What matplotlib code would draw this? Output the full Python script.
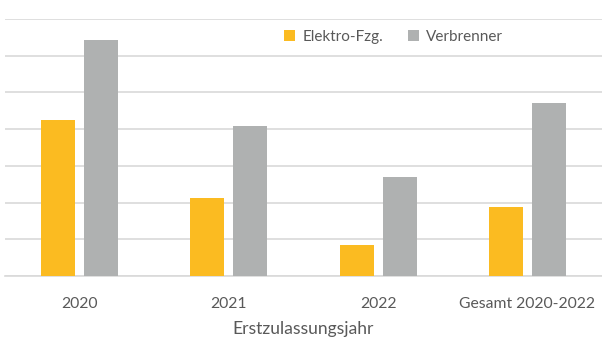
import matplotlib.pyplot as plt
import numpy as np

categories = ["2020", "2021", "2022", "Gesamt 2020-2022"]
elektro = [4.24, 2.13, 0.85, 1.89]
verbrenner = [6.43, 4.09, 2.70, 4.70]
series_names = ["Elektro-Fzg.", "Verbrenner"]

plt.rcParams["font.family"] = ["Lato", "DejaVu Sans"]

fig = plt.figure(figsize=(6.02, 3.51), dpi=100)
ax = fig.add_axes([5 / 602, (351 - 276) / 351, 597 / 602, (276 - 19) / 351])

x = np.arange(len(categories))
w = 0.228
off = 0.144
ax.bar(x - off, elektro, w, color="#fbbb21", label=series_names[0], zorder=3)
ax.bar(x + off, verbrenner, w, color="#afb1b1", label=series_names[1], zorder=3)

ax.set_xlim(-0.5, 3.5)
ax.set_ylim(0, 7)
ax.set_yticks(np.arange(0, 8))
ax.yaxis.grid(True, color="#d9d9d9", linewidth=1.2, zorder=0)
ax.tick_params(axis="y", left=False, labelleft=False)
ax.tick_params(axis="x", length=0, pad=15, labelsize=11.3, labelcolor="#595959")
ax.set_xticks(x)
ax.set_xticklabels(categories)
for s in ["top", "right", "left"]:
    ax.spines[s].set_visible(False)
ax.spines["bottom"].set_color("#d9d9d9")
ax.spines["bottom"].set_linewidth(1.2)

ax.set_xlabel("Erstzulassungsjahr", fontsize=12.6, color="#595959", labelpad=7)

ax.legend(loc="center", bbox_to_anchor=(392 / 602, 1 - 18 / 257),
          bbox_transform=ax.transAxes, ncol=2, frameon=False, fontsize=11,
          handlelength=0.7, handleheight=0.7, handletextpad=0.5, columnspacing=1.6,
          labelcolor="#595959")

fig.savefig("out.png", dpi=100, facecolor="white")
